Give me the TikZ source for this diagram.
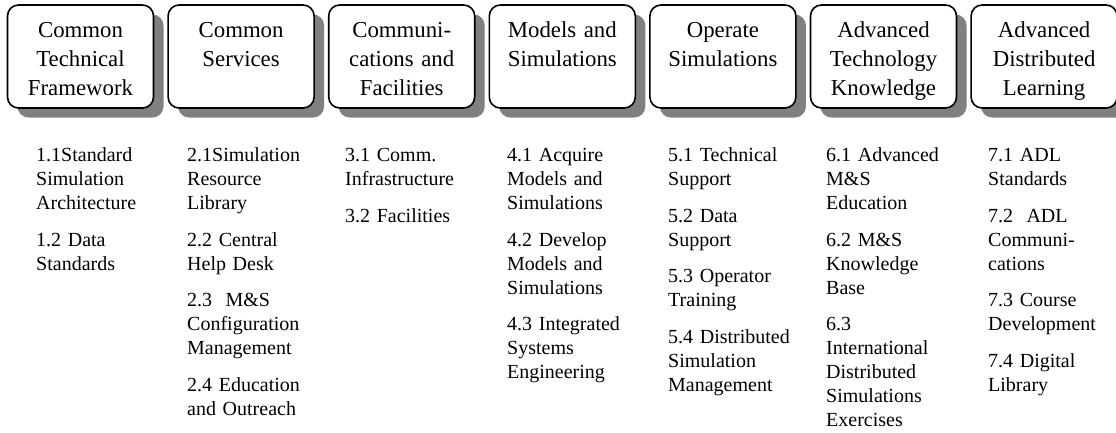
\documentclass[tikz,border=0pt]{standalone}
\usepackage{fontspec}
\setmainfont{Liberation Serif}
\usetikzlibrary{shadows}
\definecolor{shadowgray}{HTML}{808080}
\begin{document}
\begin{tikzpicture}[x=1pt,y=-1pt,
  tbox/.style={draw=black, line width=1.6pt, fill=white, rounded corners=11pt,
    minimum width=146pt, minimum height=103pt, inner sep=0pt,
    general shadow={fill=shadowgray, shadow xshift=10pt, shadow yshift=-9.5pt}},
  ttext/.style={text width=150pt, align=center, inner sep=0pt, anchor=base,
    font=\fontsize{22.8}{29.3}\selectfont},
  ltext/.style={text width=150pt, align=left, inner sep=0pt, anchor=base west,
    font=\fontsize{20}{24}\selectfont}]
\useasboundingbox (0,0) rectangle (1116,432);
\clip (0,0) rectangle (1116,432);
\fill[white] (0,0) rectangle (1116,432);
% boxes
\node[tbox] (b1) at (80.5,56.5) {};
\node[tbox] (b2) at (241.1,56.5) {};
\node[tbox] (b3) at (401.7,56.5) {};
\node[tbox] (b4) at (562.3,56.5) {};
\node[tbox] (b5) at (722.9,56.5) {};
\node[tbox] (b6) at (883.5,56.5) {};
\node[tbox] (b7) at (1044.1,56.5) {};
% titles
\node[ttext] (t1) at (80.5,37.3) {Common\\Technical\\Framework};
\node[ttext] (t2) at (241.1,37.3) {Common\\Services};
\node[ttext] (t3) at (401.7,37.3) {Communi-\\cations and\\Facilities};
\node[ttext] (t4) at (562.3,37.3) {Models and\\Simulations};
\node[ttext] (t5) at (722.9,37.3) {Operate\\Simulations};
\node[ttext] (t6) at (883.5,37.3) {Advanced\\Technology\\Knowledge};
\node[ttext] (t7) at (1044.1,37.3) {Advanced\\Distributed\\Learning};
% lists
\node[ltext] (l1) at (36,161.7) {1.1Standard\\Simulation\\Architecture\\[12.5pt]1.2 Data\\Standards};
\node[ltext] (l2) at (187,161.7) {2.1Simulation\\Resource\\Library\\[12.5pt]2.2 Central\\Help Desk\\[12.5pt]2.3~~M\&S\\Configuration\\Management\\[12.5pt]2.4 Education\\and Outreach};
\node[ltext] (l3) at (345,161.7) {3.1 Comm.\\Infrastructure\\[12.5pt]3.2 Facilities};
\node[ltext] (l4) at (507,161.7) {4.1 Acquire\\Models and\\Simulations\\[12.5pt]4.2 Develop\\Models and\\Simulations\\[12.5pt]4.3 Integrated\\Systems\\Engineering};
\node[ltext] (l5) at (668,161.7) {5.1 Technical\\Support\\[12.5pt]5.2 Data\\Support\\[12.5pt]5.3 Operator\\Training\\[12.5pt]5.4 Distributed\\Simulation\\Management};
\node[ltext] (l6) at (826,161.7) {6.1 Advanced\\M\&S\\Education\\[12.5pt]6.2 M\&S\\Knowledge\\Base\\[12.5pt]6.3\\International\\Distributed\\Simulations\\Exercises};
\node[ltext] (l7) at (988,161.7) {7.1 ADL\\Standards\\[12.5pt]7.2~~ADL\\Communi-\\cations\\[12.5pt]7.3 Course\\Development\\[12.5pt]7.4 Digital\\Library};
\end{tikzpicture}
\end{document}
